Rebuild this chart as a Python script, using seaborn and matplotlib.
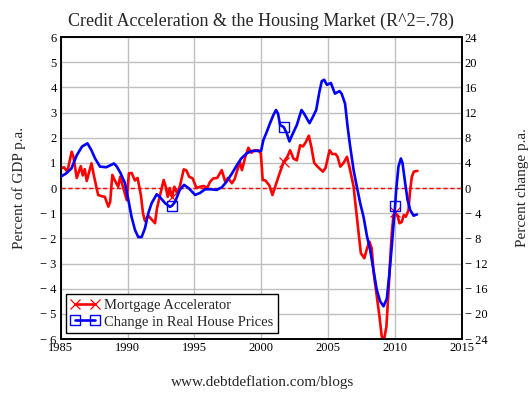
import numpy as np
import matplotlib
matplotlib.use("Agg")
import matplotlib.pyplot as plt
from matplotlib.ticker import FuncFormatter, MultipleLocator
import seaborn as sns

# Mortgage accelerator, percent of GDP p.a. (left axis)
mortgage_years = [
    1985.0, 1985.25, 1985.5, 1985.82, 1985.95, 1986.2, 1986.5, 1986.65, 1986.8, 1986.95,
    1987.3, 1987.5, 1987.8, 1988.1, 1988.3, 1988.56, 1988.7, 1988.86, 1989.0, 1989.3,
    1989.45, 1989.6, 1989.94, 1990.1, 1990.3, 1990.55, 1990.75, 1991.0, 1991.15, 1991.3,
    1991.55, 1992.05, 1992.2, 1992.4, 1992.7, 1992.85, 1993.0, 1993.15, 1993.33, 1993.5,
    1993.7, 1993.9, 1994.2, 1994.4, 1994.6, 1994.87, 1995.0, 1995.15, 1995.4, 1995.7,
    1995.95, 1996.17, 1996.4, 1996.7, 1997.04, 1997.3, 1997.5, 1997.8, 1998.0, 1998.2,
    1998.4, 1998.55, 1998.8, 1999.03, 1999.25, 1999.5, 1999.75, 1999.96, 2000.1, 2000.3,
    2000.6, 2000.83, 2001.0, 2001.28, 2001.67, 2001.95, 2002.15, 2002.4, 2002.65, 2002.9,
    2003.1, 2003.3, 2003.55, 2003.75, 2003.95, 2004.2, 2004.6, 2004.8, 2005.1, 2005.3,
    2005.55, 2005.7, 2005.9, 2006.15, 2006.4, 2006.6, 2006.77, 2006.9, 2007.0, 2007.14,
    2007.3, 2007.44, 2007.7, 2007.9, 2008.08, 2008.25, 2008.4, 2008.6, 2008.83, 2009.0,
    2009.18, 2009.35, 2009.5, 2009.63, 2009.75, 2009.88, 2010.0, 2010.2, 2010.33, 2010.5,
    2010.65, 2010.8, 2011.0, 2011.1, 2011.25, 2011.4, 2011.67,
]
mortgage_accel = [
    0.78, 0.82, 0.65, 1.44, 1.25, 0.40, 0.87, 0.50, 0.75, 0.28,
    0.98, 0.45, -0.28, -0.33, -0.35, -0.74, -0.55, 0.52, 0.35, 0.05,
    0.45, 0.15, -0.48, 0.58, 0.60, 0.30, 0.40, -0.30, -1.00, -1.31,
    -1.10, -1.40, -0.80, -0.35, 0.32, 0.05, -0.35, 0.00, -0.35, 0.05,
    -0.20, 0.05, 0.74, 0.70, 0.45, 0.38, 0.20, 0.00, 0.05, 0.08,
    0.00, 0.25, 0.38, 0.40, 0.71, 0.25, 0.40, 0.19, 0.35, 0.70,
    1.04, 0.71, 1.24, 1.60, 1.40, 1.50, 1.50, 1.38, 0.32, 0.30,
    0.10, -0.28, 0.00, 0.45, 1.04, 1.25, 1.50, 1.17, 1.10, 1.70,
    1.65, 1.80, 2.08, 1.60, 1.00, 0.85, 0.65, 0.80, 1.50, 1.35,
    1.35, 1.24, 0.85, 1.00, 1.24, 0.80, 0.38, 0.05, -0.48, -1.14,
    -1.93, -2.59, -2.79, -2.40, -2.13, -2.40, -3.39, -4.18, -5.10, -5.90,
    -6.00, -5.50, -4.18, -2.86, -1.80, -1.07, -0.95, -1.14, -1.40, -1.35,
    -1.07, -1.14, -0.88, -0.21, 0.45, 0.65, 0.68,
]

# Change in real house prices, percent change p.a. (right axis)
house_years = [
    1985.0, 1985.4, 1985.8, 1986.2, 1986.6, 1987.0, 1987.3, 1987.57, 1987.94, 1988.4,
    1988.7, 1988.98, 1989.2, 1989.49, 1989.8, 1990.06, 1990.3, 1990.56, 1990.8, 1991.05,
    1991.3, 1991.55, 1991.8, 1992.18, 1992.4, 1992.8, 1993.17, 1993.33, 1993.55, 1993.9,
    1994.22, 1994.55, 1994.92, 1995.04, 1995.4, 1995.8, 1996.2, 1996.66, 1997.04, 1997.4,
    1997.8, 1998.16, 1998.5, 1998.9, 1999.3, 1999.6, 1999.98, 2000.15, 2000.4, 2000.65,
    2000.9, 2001.1, 2001.25, 2001.4, 2001.67, 2001.9, 2002.1, 2002.3, 2002.65, 2003.0,
    2003.2, 2003.6, 2003.85, 2004.1, 2004.34, 2004.52, 2004.7, 2004.9, 2005.2, 2005.5,
    2005.84, 2006.0, 2006.26, 2006.45, 2006.64, 2006.9, 2007.14, 2007.39, 2007.64, 2007.9,
    2008.13, 2008.38, 2008.63, 2008.88, 2009.13, 2009.38, 2009.55, 2009.75, 2009.93, 2010.0,
    2010.08, 2010.25, 2010.43, 2010.55, 2010.75, 2010.93, 2011.13, 2011.38, 2011.63,
]
house_prices = [
    1.8, 2.3, 3.1, 5.2, 6.6, 7.1, 6.0, 4.7, 3.4, 3.3,
    3.6, 3.9, 3.4, 2.3, 0.8, -1.9, -4.6, -6.7, -7.8, -7.8,
    -6.4, -4.0, -2.4, -1.0, -1.4, -2.4, -3.0, -2.8, -2.2, -0.3,
    0.5, 0.0, -0.8, -1.1, -0.8, -0.2, -0.2, -0.3, 0.1, 1.0,
    2.3, 3.6, 4.7, 5.5, 5.9, 5.9, 5.9, 7.6, 8.9, 10.3,
    11.6, 12.4, 11.8, 10.0, 9.7, 8.7, 7.4, 8.4, 10.0, 12.4,
    11.8, 10.3, 11.3, 12.4, 15.3, 17.0, 17.2, 16.4, 16.7, 15.0,
    15.4, 15.0, 13.4, 9.7, 6.6, 2.8, 0.2, -2.4, -4.6, -7.7,
    -9.8, -13.0, -16.2, -18.0, -18.8, -17.6, -14.1, -9.3, -4.6, -2.8,
    -0.3, 3.4, 4.7, 4.0, 0.8, -1.9, -3.5, -4.4, -4.2,
]

# Years at which the series carry a marker
marker_years = [1993.33, 2001.67, 2010.0]

x_ticks = [1985, 1990, 1995, 2000, 2005, 2010, 2015]

SERIF = ["Liberation Serif", "DejaVu Serif"]


def marker_index(years, wanted):
    """Indices of the points that get a marker."""
    years = np.asarray(years)
    return [int(np.argmin(np.abs(years - w))) for w in wanted]


def minus_fmt(v, _pos):
    if abs(v) < 1e-9:
        return "0"
    if v < 0:
        return "\u2212 %g" % abs(v)
    return "%g" % v


def main():
    sns.set_style("white")
    plt.rcParams["font.family"] = SERIF

    fig = plt.figure(figsize=(5.3, 3.93), dpi=100)
    ax = fig.add_axes([0.1145, 0.1374, 0.7572, 0.7684])
    ax2 = ax.twinx()

    # grid on the left axis only
    ax.set_axisbelow(True)
    ax.grid(True, color="#c0c0c0", linewidth=1.0)
    ax.xaxis.set_major_locator(MultipleLocator(5))
    ax.yaxis.set_major_locator(MultipleLocator(1))

    ax.axhline(0, color="red", linestyle=(0, (3, 2)), linewidth=1.0, zorder=2)

    # seaborn paints marker edges white by default, so set them explicitly
    sns.lineplot(x=mortgage_years, y=mortgage_accel, ax=ax, color="#ff0000",
                 linewidth=1.9, marker="x", markersize=7, markeredgewidth=0.9,
                 markeredgecolor="#ff0000",
                 markevery=marker_index(mortgage_years, marker_years),
                 label="Mortgage Accelerator", legend=False, zorder=3)
    sns.lineplot(x=house_years, y=house_prices, ax=ax2, color="#0000ff",
                 linewidth=1.9, marker="s", markersize=6.5, markeredgewidth=1.0,
                 markerfacecolor="none", markeredgecolor="#0000ff",
                 markevery=marker_index(house_years, marker_years),
                 label="Change in Real House Prices", legend=False, zorder=3)

    ax.set_xlim(1985, 2015)
    ax.set_ylim(-6, 6)
    ax2.set_ylim(-24, 24)
    ax.set_xticks(x_ticks)
    ax2.yaxis.set_major_locator(MultipleLocator(4))
    ax.yaxis.set_major_formatter(FuncFormatter(minus_fmt))
    ax2.yaxis.set_major_formatter(FuncFormatter(minus_fmt))

    for a in (ax, ax2):
        a.tick_params(length=0, labelsize=9, colors="black")
        for s in a.spines.values():
            s.set_color("black")
            s.set_linewidth(1.2)
    ax.tick_params(axis="y", pad=3)
    ax.tick_params(axis="x", pad=2)
    ax2.tick_params(axis="y", pad=2)

    ax.set_xlabel("")
    ax.set_ylabel("Percent of GDP p.a.", fontsize=11)
    ax2.set_ylabel("Percent change p.a.", fontsize=11)
    ax.yaxis.set_label_coords(-0.087, 0.5)
    ax2.yaxis.set_label_coords(1.135, 0.5)

    ax.set_title("Credit Acceleration & the Housing Market (R^2=.78)",
                 fontsize=13, pad=8)

    h1, l1 = ax.get_legend_handles_labels()
    h2, l2 = ax2.get_legend_handles_labels()
    leg = ax2.legend(h1 + h2, l1 + l2, loc="lower left", bbox_to_anchor=(0.014, 0.02),
                     borderaxespad=0, numpoints=2, handlelength=2.0, fontsize=10.5,
                     frameon=True, fancybox=False, framealpha=1, borderpad=0.3,
                     labelspacing=0.25, handletextpad=0.3)
    leg.get_frame().set_edgecolor("black")
    leg.get_frame().set_linewidth(1.0)

    fig.text(0.496, 1 - 382 / 393, "www.debtdeflation.com/blogs", ha="center",
             va="center", fontsize=11)

    fig.savefig("out.png", dpi=100)
    plt.close(fig)


if __name__ == "__main__":
    main()
